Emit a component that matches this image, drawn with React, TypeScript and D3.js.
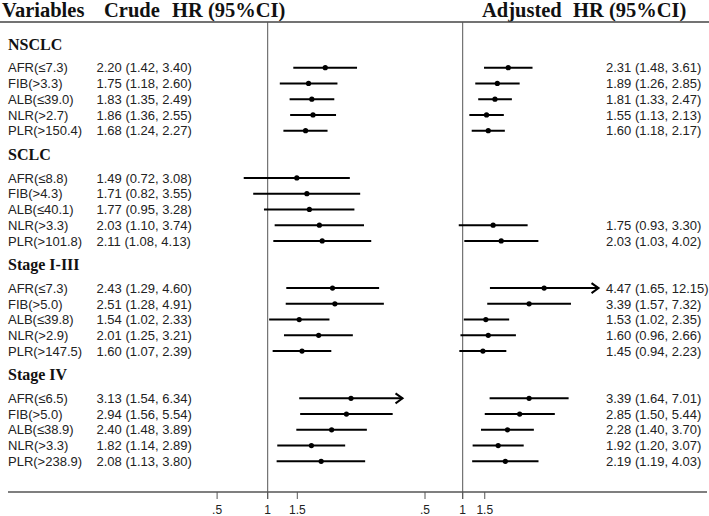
import React from "react";
import * as d3 from "d3";

const groups = ["NSCLC", "SCLC", "Stage I-III", "Stage IV"];
const variables = [
  ["AFR(≤7.3)", "FIB(>3.3)", "ALB(≤39.0)", "NLR(>2.7)", "PLR(>150.4)"],
  ["AFR(≤8.8)", "FIB(>4.3)", "ALB(≤40.1)", "NLR(>3.3)", "PLR(>101.8)"],
  ["AFR(≤7.3)", "FIB(>5.0)", "ALB(≤39.8)", "NLR(>2.9)", "PLR(>147.5)"],
  ["AFR(≤6.5)", "FIB(>5.0)", "ALB(≤38.9)", "NLR(>3.3)", "PLR(>238.9)"],
];
const crudeHR = [
  [2.2, 1.75, 1.83, 1.86, 1.68],
  [1.49, 1.71, 1.77, 2.03, 2.11],
  [2.43, 2.51, 1.54, 2.01, 1.6],
  [3.13, 2.94, 2.4, 1.82, 2.08],
];
const crudeLo = [
  [1.42, 1.18, 1.35, 1.36, 1.24],
  [0.72, 0.82, 0.95, 1.1, 1.08],
  [1.29, 1.28, 1.02, 1.25, 1.07],
  [1.54, 1.56, 1.48, 1.14, 1.13],
];
const crudeHi = [
  [3.4, 2.6, 2.49, 2.55, 2.27],
  [3.08, 3.55, 3.28, 3.74, 4.13],
  [4.6, 4.91, 2.33, 3.21, 2.39],
  [6.34, 5.54, 3.89, 2.89, 3.8],
];
const adjHR: (number | null)[][] = [
  [2.31, 1.89, 1.81, 1.55, 1.6],
  [null, null, null, 1.75, 2.03],
  [4.47, 3.39, 1.53, 1.6, 1.45],
  [3.39, 2.85, 2.28, 1.92, 2.19],
];
const adjLo: (number | null)[][] = [
  [1.48, 1.26, 1.33, 1.13, 1.18],
  [null, null, null, 0.93, 1.03],
  [1.65, 1.57, 1.02, 0.96, 0.94],
  [1.64, 1.5, 1.4, 1.2, 1.19],
];
const adjHi: (number | null)[][] = [
  [3.61, 2.85, 2.47, 2.13, 2.17],
  [null, null, null, 3.3, 4.02],
  [12.15, 7.32, 2.35, 2.66, 2.23],
  [7.01, 5.44, 3.7, 3.07, 4.03],
];
const tickValues = [0.5, 1, 1.5];
const tickLabels = [".5", "1", "1.5"];

const W = 709;
const H = 516;

const xCrude = d3.scaleLog().domain([0.5, 1]).range([217.1, 267.7]);
const xAdj = d3.scaleLog().domain([0.5, 1]).range([425.0, 462.7]);
const yRow = d3.scaleLinear().domain([0, 25]).range([67.7, 461.3]);
const crudeArrowMax = 6;
const adjArrowMax = 10;

const fmt = (v: number) => v.toFixed(2);
const sans = "'Liberation Sans', Arial, sans-serif";
const serif = "'Liberation Serif', 'Times New Roman', serif";
const axisY = 492;
const topY = 22;

function CI({ x, hr, lo, hi, y, arrowMax }: any) {
  const x1 = x(lo);
  const x2 = x(hi);
  const arrow = hi > arrowMax;
  return (
    <g>
      <line x1={x1} x2={x2} y1={y} y2={y} stroke="#000" strokeWidth={2} />
      {arrow && (
        <path
          d={`M${x2 - 7},${y - 5} L${x2},${y} L${x2 - 7},${y + 5}`}
          fill="none"
          stroke="#000"
          strokeWidth={2}
        />
      )}
      <circle cx={x(hr)} cy={y} r={2.6} fill="#000" />
    </g>
  );
}

export default function App() {
  const rows: React.ReactNode[] = [];
  groups.forEach((g, gi) => {
    const hy = yRow(gi * 7 - 1.5);
    rows.push(
      <text
        key={`h${gi}`}
        x={8}
        y={hy}
        dy="0.35em"
        fontFamily={serif}
        fontWeight="bold"
        fontSize={16}
        fill="#111"
      >
        {g}
      </text>
    );
    variables[gi].forEach((v, i) => {
      const y = yRow(gi * 7 + i);
      rows.push(
        <g key={`r${gi}-${i}`}>
          <text x={8} y={y} dy="0.36em" fontFamily={sans} fontSize={13} fill="#222">
            {v}
          </text>
          <text x={96.5} y={y} dy="0.36em" fontFamily={sans} fontSize={13} fill="#222">
            {`${fmt(crudeHR[gi][i])} (${fmt(crudeLo[gi][i])}, ${fmt(crudeHi[gi][i])})`}
          </text>
          <CI
            x={xCrude}
            hr={crudeHR[gi][i]}
            lo={crudeLo[gi][i]}
            hi={crudeHi[gi][i]}
            y={y}
            arrowMax={crudeArrowMax}
          />
          {adjHR[gi][i] !== null && (
            <>
              <CI
                x={xAdj}
                hr={adjHR[gi][i]}
                lo={adjLo[gi][i]}
                hi={adjHi[gi][i]}
                y={y}
                arrowMax={adjArrowMax}
              />
              <text x={606} y={y} dy="0.36em" fontFamily={sans} fontSize={13} fill="#222">
                {`${fmt(adjHR[gi][i] as number)} (${fmt(adjLo[gi][i] as number)}, ${fmt(
                  adjHi[gi][i] as number
                )})`}
              </text>
            </>
          )}
        </g>
      );
    });
  });

  return (
    <svg
      width={W}
      height={H}
      style={{ position: "absolute", left: 0, top: 0, background: "#fff" }}
    >
      <rect width={W} height={H} fill="#fff" />
      {/* header */}
      <g fontFamily={serif} fontWeight="bold" fontSize={20.5} fill="#111">
        <text x={2} y={17}>Variables</text>
        <text x={104} y={17}>Crude</text>
        <text x={172} y={17}>HR (95%CI)</text>
        <text x={482} y={17}>Adjusted</text>
        <text x={573} y={17}>HR (95%CI)</text>
      </g>
      <line x1={0} x2={W} y1={topY} y2={topY} stroke="#444" strokeWidth={1.5} />
      {/* reference lines */}
      <line x1={xCrude(1)} x2={xCrude(1)} y1={topY} y2={axisY + 7} stroke="#555" strokeWidth={1} />
      <line x1={xAdj(1)} x2={xAdj(1)} y1={topY} y2={axisY + 7} stroke="#555" strokeWidth={1} />
      {/* axis */}
      <line x1={8} x2={707} y1={axisY} y2={axisY} stroke="#555" strokeWidth={1.5} />
      {[xCrude, xAdj].map((sc, si) =>
        tickValues.map((t, ti) => (
          <g key={`t${si}-${ti}`}>
            <line x1={sc(t)} x2={sc(t)} y1={axisY} y2={axisY + 7} stroke="#555" strokeWidth={1} />
            <text
              x={sc(t)}
              y={513.5}
              textAnchor="middle"
              fontFamily={sans}
              fontSize={12}
              fill="#222"
            >
              {tickLabels[ti]}
            </text>
          </g>
        ))
      )}
      {rows}
    </svg>
  );
}
